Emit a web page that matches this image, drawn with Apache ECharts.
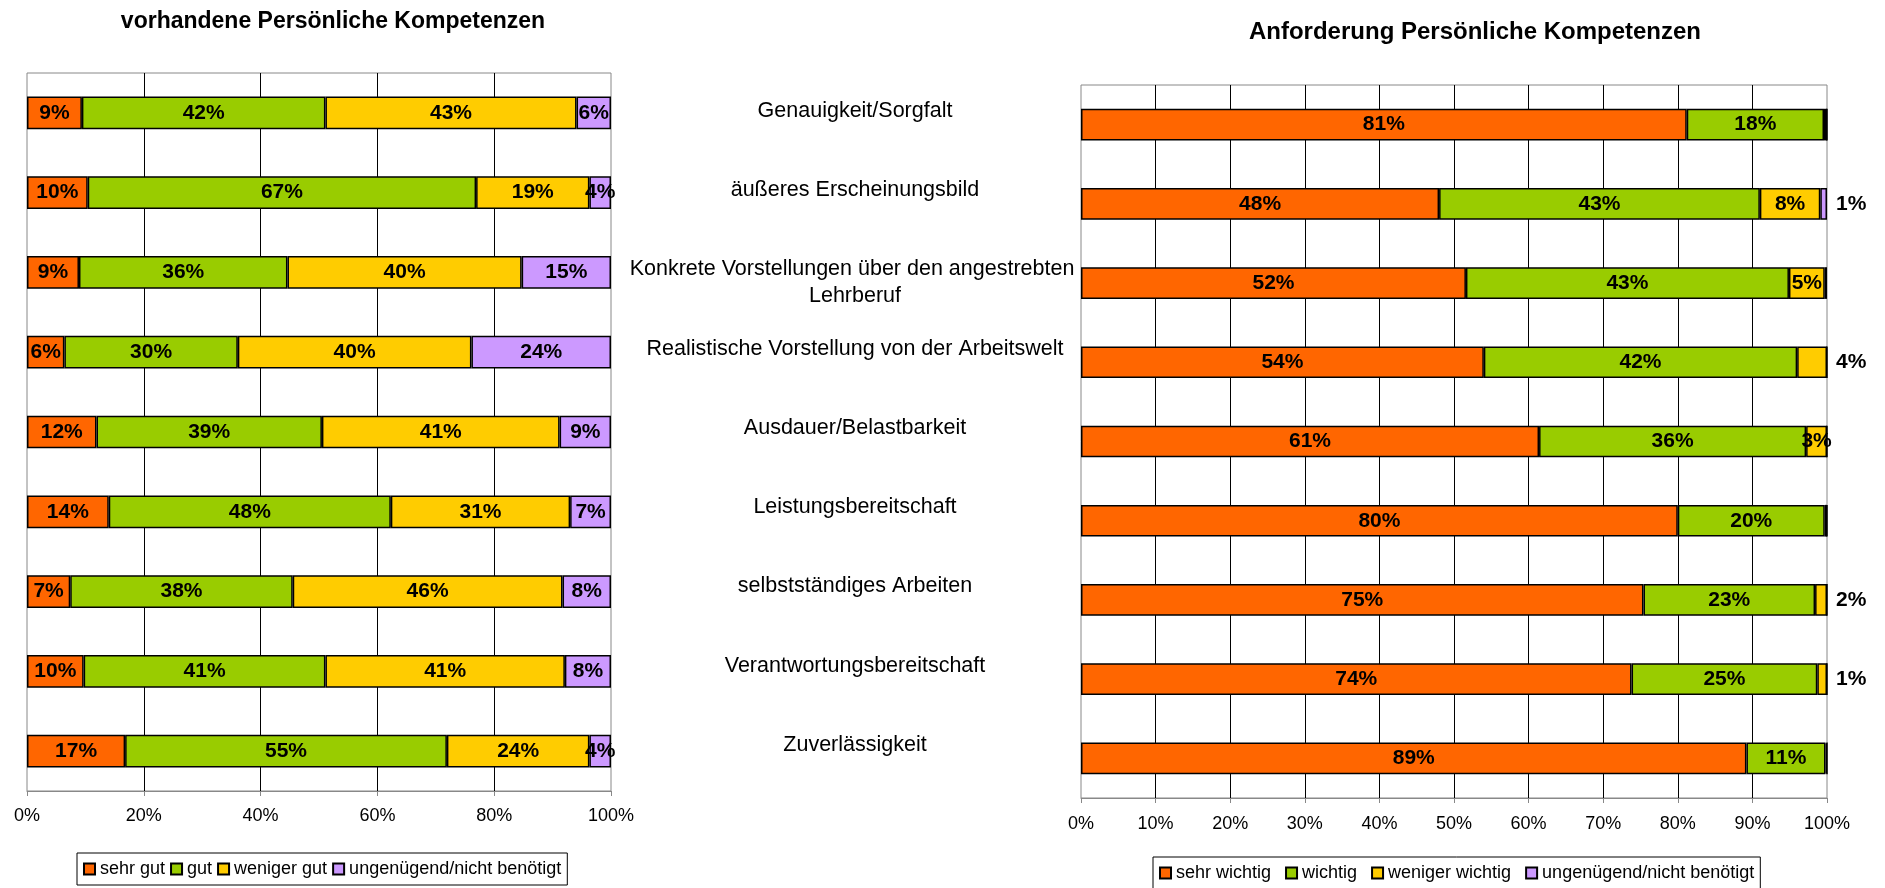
<!DOCTYPE html>
<html>
<head>
<meta charset="utf-8">
<script src="https://cdn.jsdelivr.net/npm/echarts@6/dist/echarts.min.js"></script>
<style>
html,body{margin:0;padding:0;background:#fff;}
#chart{width:1885px;height:888px;}
</style>
</head>
<body>
<div id="chart"></div>
<script>
// ---- Data ----
const categories = [
  'Genauigkeit/Sorgfalt',
  'äußeres Erscheinungsbild',
  'Konkrete Vorstellungen über den angestrebten Lehrberuf',
  'Realistische Vorstellung von der Arbeitswelt',
  'Ausdauer/Belastbarkeit',
  'Leistungsbereitschaft',
  'selbstständiges Arbeiten',
  'Verantwortungsbereitschaft',
  'Zuverlässigkeit'
];
const leftTitle = 'vorhandene Persönliche Kompetenzen';
const rightTitle = 'Anforderung Persönliche Kompetenzen';
const leftNames = ['sehr gut', 'gut', 'weniger gut', 'ungenügend/nicht benötigt'];
const rightNames = ['sehr wichtig', 'wichtig', 'weniger wichtig', 'ungenügend/nicht benötigt'];

// vorhandene (left), percent of row
const sehrGut      = [9.4, 10.4, 8.9, 6.4, 11.9, 14.0, 7.4, 9.7, 16.8];
const gut          = [41.7, 66.5, 35.7, 29.7, 38.6, 48.3, 38.1, 41.4, 55.1];
const wenigerGut   = [43.0, 19.4, 40.1, 40.0, 40.7, 30.7, 46.2, 41.0, 24.4];
const ungenuegendL = [5.9, 3.7, 15.3, 23.9, 8.8, 7.0, 8.3, 7.9, 3.7];

// Anforderung (right), percent of row
const sehrWichtig    = [81.2, 48.0, 51.6, 54.0, 61.4, 80.0, 75.4, 73.8, 89.2];
const wichtig        = [18.4, 43.0, 43.3, 42.0, 35.8, 19.7, 23.0, 24.9, 10.6];
const wenigerWichtig = [0.4, 8.1, 4.8, 4.0, 2.8, 0.3, 1.6, 1.3, 0.2];
const ungenuegendR   = [0, 0.9, 0.3, 0, 0, 0, 0, 0, 0];

const leftTicksInterval = 20;
const rightTicksInterval = 10;

// ---- Styling ----
const colors = ['#FF6600', '#99CC00', '#FFCC00', '#CC99FF'];
const FONT = '"Liberation Sans", Arial, sans-serif';
// labels drawn outside (right of bar end) for some small segments: series index -> row indices
const outsideRows = {2: [3, 6, 7], 3: [1]};

function fmt(p) {
  return p.value < 0.5 ? '' : Math.round(p.value) + '%';
}

function makeSeries(names, arrays, idx, stack, gap, outside) {
  return arrays.map((arr, si) => ({
    name: names[si],
    type: 'bar',
    stack: stack,
    xAxisIndex: idx,
    yAxisIndex: idx,
    barCategoryGap: gap,
    itemStyle: {color: colors[si], borderColor: '#000', borderWidth: 1.5},
    label: {
      show: true, position: 'inside', formatter: fmt,
      fontFamily: FONT, fontWeight: 'bold', fontSize: 21, color: '#000'
    },
    data: arr.map((v, ri) => {
      if (outside && outside[si] && outside[si].indexOf(ri) >= 0) {
        return {value: v, label: {position: 'right', distance: 9}};
      }
      return v;
    })
  }));
}

const xAxisCommon = (gi, interval, margin) => ({
  gridIndex: gi, type: 'value', min: 0, max: 100, interval: interval,
  axisLabel: {formatter: '{value}%', fontFamily: FONT, fontSize: 18, color: '#000', margin: margin},
  axisLine: {show: true, lineStyle: {color: '#888', width: 1}},
  axisTick: {show: true, length: 5, lineStyle: {color: '#888'}},
  splitLine: {show: true, showMinLine: false, showMaxLine: false, lineStyle: {color: '#000', width: 1}}
});

const catLabelStyle = {align: 'center', width: 480, overflow: 'break',
                       fontFamily: FONT, fontSize: 21.5, lineHeight: 27, color: '#000'};
// right axis category labels: single-line labels sit above the bar, wrapped one centered
const rightCats = categories.map(c => ({
  value: c,
  textStyle: Object.assign({}, catLabelStyle, {verticalAlign: c.length > 45 ? 'middle' : 'bottom'})
}));

const chart = echarts.init(document.getElementById('chart'));
chart.setOption({
  animation: false,
  backgroundColor: '#fff',
  title: [
    {text: leftTitle, left: 328, top: 5, textAlign: 'center',
     textStyle: {fontFamily: FONT, fontWeight: 'bold', fontSize: 23, color: '#000'}},
    {text: rightTitle, left: 1470, top: 15, textAlign: 'center',
     textStyle: {fontFamily: FONT, fontWeight: 'bold', fontSize: 24, color: '#000'}}
  ],
  grid: [
    {left: 27, top: 73, width: 584, height: 718, show: true, borderColor: '#888', borderWidth: 1, containLabel: false},
    {left: 1081, top: 85, width: 746, height: 713, show: true, borderColor: '#888', borderWidth: 1, containLabel: false}
  ],
  xAxis: [xAxisCommon(0, leftTicksInterval, 16), xAxisCommon(1, rightTicksInterval, 17)],
  yAxis: [
    {gridIndex: 0, type: 'category', inverse: true, data: categories,
     axisLabel: {show: false}, axisLine: {show: false}, axisTick: {show: false}},
    {gridIndex: 1, type: 'category', inverse: true, data: rightCats,
     axisLine: {show: false}, axisTick: {show: false},
     axisLabel: Object.assign({show: true, margin: 226}, catLabelStyle)}
  ],
  legend: [
    {data: leftNames, left: 77, top: 853, orient: 'horizontal', icon: 'rect',
     itemWidth: 11, itemHeight: 11, itemGap: 5, padding: [7, 6], borderColor: '#000', borderWidth: 1,
     textStyle: {fontFamily: FONT, fontSize: 18, color: '#000'}},
    {data: rightNames, left: 1153, top: 857, orient: 'horizontal', icon: 'rect',
     itemWidth: 11, itemHeight: 11, itemGap: 14, padding: [7, 6], borderColor: '#000', borderWidth: 1,
     textStyle: {fontFamily: FONT, fontSize: 18, color: '#000'}}
  ],
  series: [].concat(
    makeSeries(leftNames, [sehrGut, gut, wenigerGut, ungenuegendL], 0, 'L', '59%', null),
    makeSeries(rightNames, [sehrWichtig, wichtig, wenigerWichtig, ungenuegendR], 1, 'R', '60%', outsideRows)
  )
});
</script>
</body>
</html>
